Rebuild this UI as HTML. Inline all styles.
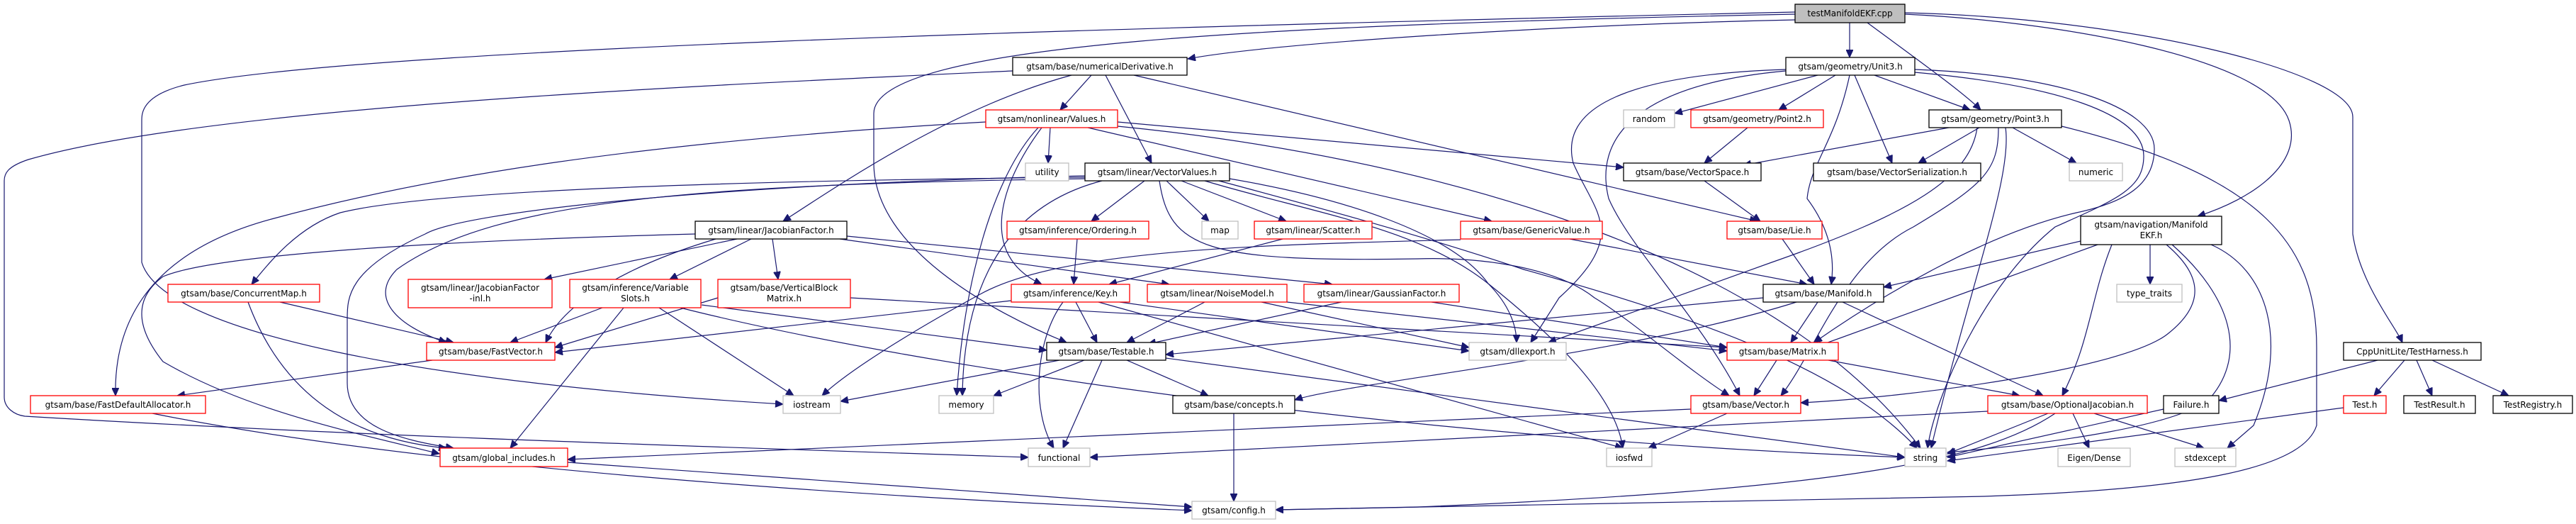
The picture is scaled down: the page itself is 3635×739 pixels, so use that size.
<!DOCTYPE html>
<html><head><meta charset="utf-8"><style>
html,body{margin:0;padding:0;background:#fff;}
svg{display:block;}
text{font-family:"DejaVu Sans","Liberation Sans",sans-serif;font-size:12px;fill:#000;}
.e{fill:none;stroke:#191970;stroke-width:1.2;marker-end:url(#a);}
.b{fill:#fff;stroke:#000;stroke-width:1.3;}
.r{fill:#fff;stroke:#ff0000;stroke-width:1.3;}
.g{fill:#fff;stroke:#bfbfbf;stroke-width:1.3;}
</style></head><body>
<svg width="3635" height="739" viewBox="0 0 3635 739" xmlns="http://www.w3.org/2000/svg">
<defs><marker id="a" markerUnits="userSpaceOnUse" markerWidth="12" markerHeight="10" refX="11" refY="5" orient="auto"><path d="M0,0 L11,5 L0,10 z" fill="#191970" stroke="#191970"/></marker></defs>
<g>
<path class="e" d="M2610,32 L2610,81"/>
<path class="e" d="M2635,32 C2700,80 2770,130 2795,155"/>
<path class="e" d="M2533,28 C2200,35 1800,60 1676,83"/>
<path class="e" d="M2533,20 C1800,35 1233,60 1233,160 L1233,230 C1233,350 1400,440 1505,483"/>
<path class="e" d="M2533,17 C1500,40 500,70 260,120 C200,135 200,160 200,170 L200,370 C230,470 600,540 1105,570"/>
<path class="e" d="M2688,20 C2900,30 3200,80 3230,170 C3250,230 3180,280 3101,305"/>
<path class="e" d="M2688,18 C3000,25 3320,100 3320,165 L3320,330 C3330,400 3380,460 3390,483"/>
<path class="e" d="M1429,100 C1000,120 300,150 40,225 C10,235 6,245 6,255 L6,560 C6,575 20,585 35,587 C500,615 1000,630 1451,645"/>
<path class="e" d="M1540,106 L1496,155"/>
<path class="e" d="M1560,106 L1625,230"/>
<path class="e" d="M1512,106 C1350,150 1200,250 1105,312"/>
<path class="e" d="M1600,106 L2480,312"/>
<path class="e" d="M1482,180 L1479,230"/>
<path class="e" d="M1465,180 C1400,250 1360,400 1350,558"/>
<path class="e" d="M1470,180 C1410,260 1380,360 1470,401"/>
<path class="e" d="M1577,172 L2291,236"/>
<path class="e" d="M1535,180 L2105,312"/>
<path class="e" d="M1577,178 C2000,220 2500,350 2710,632"/>
<path class="e" d="M1391,172 C900,200 600,250 383,309 C250,345 160,420 163,558"/>
<path class="e" d="M1615,255 L1540,312"/>
<path class="e" d="M1646,255 L1706,312"/>
<path class="e" d="M1667,255 L1815,312"/>
<path class="e" d="M1555,255 C1420,290 1360,400 1358,558"/>
<path class="e" d="M1531,252 C1000,260 700,280 560,380 C520,420 560,460 630,483"/>
<path class="e" d="M1531,250 C1000,255 600,270 480,300 C420,320 380,370 355,401"/>
<path class="e" d="M1531,248 C1000,260 650,300 600,330 C490,380 490,420 490,450 L490,540 C490,600 560,620 640,632"/>
<path class="e" d="M1735,252 C1900,280 2050,330 2100,400 C2130,430 2140,460 2140,483"/>
<path class="e" d="M1700,255 C1850,300 2000,320 2100,400 C2200,480 2280,560 2290,632"/>
<path class="e" d="M1636,255 C1650,350 1700,370 2000,365 C2100,362 2200,380 2250,420 C2300,450 2380,520 2440,558"/>
<path class="e" d="M1720,255 C1850,290 2000,330 2150,380 C2400,450 2600,520 2705,632"/>
<path class="e" d="M1040,337 L768,394"/>
<path class="e" d="M1060,337 L945,394"/>
<path class="e" d="M1090,337 L1098,394"/>
<path class="e" d="M1185,337 L1650,401"/>
<path class="e" d="M1195,333 L1880,401"/>
<path class="e" d="M1010,337 C900,370 800,420 770,483"/>
<path class="e" d="M981,330 C600,340 300,360 230,390 C190,420 190,460 230,510 C350,580 500,610 620,640"/>
<path class="e" d="M850,434 L720,483"/>
<path class="e" d="M880,434 L720,632"/>
<path class="e" d="M990,430 L1477,494"/>
<path class="e" d="M930,434 L1120,558"/>
<path class="e" d="M960,434 C1300,520 2000,620 2688,645"/>
<path class="e" d="M1013,420 L783,490"/>
<path class="e" d="M1200,420 L2437,490"/>
<path class="e" d="M395,426 L640,483"/>
<path class="e" d="M350,426 C400,560 500,620 630,632"/>
<path class="e" d="M610,508 L250,558"/>
<path class="e" d="M215,583 C600,660 1200,700 1682,720"/>
<path class="e" d="M801,652 L1682,715"/>
<path class="e" d="M1520,337 L1515,401"/>
<path class="e" d="M1810,337 L1565,401"/>
<path class="e" d="M2215,337 L2550,401"/>
<path class="e" d="M2061,338 C1800,345 1500,350 1383,415 C1300,460 1200,520 1160,558"/>
<path class="e" d="M1518,426 L1548,483"/>
<path class="e" d="M1500,426 C1460,480 1455,580 1487,632"/>
<path class="e" d="M1427,424 L783,497"/>
<path class="e" d="M1550,426 L2290,632"/>
<path class="e" d="M1580,426 L2073,495"/>
<path class="e" d="M1700,426 L1590,483"/>
<path class="e" d="M1780,426 L2073,490"/>
<path class="e" d="M1816,426 L2437,495"/>
<path class="e" d="M1893,426 L1620,485"/>
<path class="e" d="M2020,426 L2437,490"/>
<path class="e" d="M1495,508 L1186,566"/>
<path class="e" d="M1530,508 L1402,558"/>
<path class="e" d="M1590,508 L1705,558"/>
<path class="e" d="M1555,508 L1500,632"/>
<path class="e" d="M1645,505 L2688,645"/>
<path class="e" d="M1741,583 L1741,707"/>
<path class="e" d="M2565,426 L2527,483"/>
<path class="e" d="M2600,426 L2883,558"/>
<path class="e" d="M2488,420 L1645,500"/>
<path class="e" d="M2535,426 C2300,500 1900,540 1827,564"/>
<path class="e" d="M2507,508 L2475,558"/>
<path class="e" d="M2580,508 L2850,558"/>
<path class="e" d="M2437,583 L2326,632"/>
<path class="e" d="M2386,577 L801,648"/>
<path class="e" d="M2890,583 L2748,640"/>
<path class="e" d="M2925,583 L2948,632"/>
<path class="e" d="M2955,583 L3110,632"/>
<path class="e" d="M2900,583 C2800,650 2600,690 2000,715 L1800,719"/>
<path class="e" d="M2805,580 L1538,645"/>
<path class="e" d="M2466,180 L2405,230"/>
<path class="e" d="M2565,106 L2363,160"/>
<path class="e" d="M2590,106 L2510,155"/>
<path class="e" d="M2645,106 L2780,155"/>
<path class="e" d="M2617,106 L2670,230"/>
<path class="e" d="M2610,106 C2590,200 2555,230 2550,280 C2580,320 2590,360 2584,401"/>
<path class="e" d="M2520,98 C2300,105 2200,150 2220,230 C2250,300 2300,330 2200,420 L2160,483"/>
<path class="e" d="M2520,100 C2300,120 2250,200 2270,280 C2300,350 2400,450 2455,558"/>
<path class="e" d="M2702,98 C2900,105 3040,150 3040,210 C3040,260 3000,285 2930,300 C2800,330 2650,420 2560,483"/>
<path class="e" d="M2702,102 C2900,120 3025,160 3025,220 C3025,265 2990,280 2900,320 C2800,400 2730,560 2720,632"/>
<path class="e" d="M2750,180 L2460,233"/>
<path class="e" d="M2793,180 L2707,230"/>
<path class="e" d="M2840,180 L2930,230"/>
<path class="e" d="M2820,180 C2820,240 2800,260 2700,320 C2600,370 2560,500 2513,558"/>
<path class="e" d="M2830,180 C2840,250 2780,400 2725,632"/>
<path class="e" d="M2790,180 C2780,250 2700,300 2500,370 L2185,483"/>
<path class="e" d="M2909,178 C3200,250 3269,350 3269,490 L3269,600 C3250,660 3100,690 2800,700 L1800,719"/>
<path class="e" d="M2515,337 L2560,401"/>
<path class="e" d="M2405,255 L2484,312"/>
<path class="e" d="M3034,345 L3034,401"/>
<path class="e" d="M2936,340 L2658,405"/>
<path class="e" d="M2960,345 L2560,490"/>
<path class="e" d="M3057,345 C3110,390 3110,430 3060,470 C3000,520 2700,560 2541,568"/>
<path class="e" d="M2980,345 C2950,420 2950,480 2910,558"/>
<path class="e" d="M3065,345 C3150,420 3170,500 3120,560 C3080,600 2900,625 2748,638"/>
<path class="e" d="M3120,345 C3200,380 3230,480 3180,600 L3143,632"/>
<path class="e" d="M3355,508 L3131,565"/>
<path class="e" d="M3393,508 L3350,558"/>
<path class="e" d="M3410,508 L3432,558"/>
<path class="e" d="M3432,508 L3540,558"/>
<path class="e" d="M3053,577 L2748,645"/>
<path class="e" d="M3307,575 L2748,650"/>
</g>
<g>
<rect x="2533" y="6" width="155" height="26" fill="#bfbfbf" stroke="#000" stroke-width="1.3"/><text x="2610.5" y="23" text-anchor="middle">testManifoldEKF.cpp</text>
<rect class="b" x="1429" y="81" width="246" height="25"/><text x="1552" y="98" text-anchor="middle">gtsam/base/numericalDerivative.h</text>
<rect class="b" x="2520" y="81" width="182" height="25"/><text x="2611" y="98" text-anchor="middle">gtsam/geometry/Unit3.h</text>
<rect class="r" x="1391" y="155" width="186" height="25"/><text x="1484" y="172" text-anchor="middle">gtsam/nonlinear/Values.h</text>
<rect class="g" x="2291" y="155" width="72" height="25"/><text x="2327" y="172" text-anchor="middle">random</text>
<rect class="r" x="2386" y="155" width="187" height="25"/><text x="2479.5" y="172" text-anchor="middle">gtsam/geometry/Point2.h</text>
<rect class="b" x="2722" y="155" width="187" height="25"/><text x="2815.5" y="172" text-anchor="middle">gtsam/geometry/Point3.h</text>
<rect class="g" x="1447" y="230" width="61" height="25"/><text x="1477.5" y="247" text-anchor="middle">utility</text>
<rect class="b" x="1531" y="230" width="204" height="25"/><text x="1633" y="247" text-anchor="middle">gtsam/linear/VectorValues.h</text>
<rect class="b" x="2291" y="230" width="194" height="25"/><text x="2388" y="247" text-anchor="middle">gtsam/base/VectorSpace.h</text>
<rect class="b" x="2559" y="230" width="236" height="25"/><text x="2677" y="247" text-anchor="middle">gtsam/base/VectorSerialization.h</text>
<rect class="g" x="2920" y="230" width="75" height="25"/><text x="2957.5" y="247" text-anchor="middle">numeric</text>
<rect class="b" x="981" y="312" width="214" height="25"/><text x="1088" y="329" text-anchor="middle">gtsam/linear/JacobianFactor.h</text>
<rect class="r" x="1421" y="312" width="200" height="25"/><text x="1521" y="329" text-anchor="middle">gtsam/inference/Ordering.h</text>
<rect class="g" x="1696" y="312" width="51" height="25"/><text x="1721.5" y="329" text-anchor="middle">map</text>
<rect class="r" x="1770" y="312" width="166" height="25"/><text x="1853" y="329" text-anchor="middle">gtsam/linear/Scatter.h</text>
<rect class="r" x="2061" y="312" width="200" height="25"/><text x="2161" y="329" text-anchor="middle">gtsam/base/GenericValue.h</text>
<rect class="r" x="2437" y="312" width="134" height="25"/><text x="2504" y="329" text-anchor="middle">gtsam/base/Lie.h</text>
<rect class="b" x="2936" y="305" width="199" height="40"/><text x="3035.5" y="321" text-anchor="middle">gtsam/navigation/Manifold</text><text x="3035.5" y="336" text-anchor="middle">EKF.h</text>
<rect class="r" x="237" y="401" width="214" height="25"/><text x="344" y="418" text-anchor="middle">gtsam/base/ConcurrentMap.h</text>
<rect class="r" x="576" y="394" width="203" height="40"/><text x="677.5" y="410" text-anchor="middle">gtsam/linear/JacobianFactor</text><text x="677.5" y="425" text-anchor="middle">-inl.h</text>
<rect class="r" x="804" y="394" width="185" height="40"/><text x="896.5" y="410" text-anchor="middle">gtsam/inference/Variable</text><text x="896.5" y="425" text-anchor="middle">Slots.h</text>
<rect class="r" x="1013" y="394" width="187" height="40"/><text x="1106.5" y="410" text-anchor="middle">gtsam/base/VerticalBlock</text><text x="1106.5" y="425" text-anchor="middle">Matrix.h</text>
<rect class="r" x="1427" y="401" width="167" height="25"/><text x="1510.5" y="418" text-anchor="middle">gtsam/inference/Key.h</text>
<rect class="r" x="1619" y="401" width="197" height="25"/><text x="1717.5" y="418" text-anchor="middle">gtsam/linear/NoiseModel.h</text>
<rect class="r" x="1840" y="401" width="219" height="25"/><text x="1949.5" y="418" text-anchor="middle">gtsam/linear/GaussianFactor.h</text>
<rect class="b" x="2488" y="401" width="170" height="25"/><text x="2573" y="418" text-anchor="middle">gtsam/base/Manifold.h</text>
<rect class="g" x="2987" y="401" width="92" height="25"/><text x="3033" y="418" text-anchor="middle">type_traits</text>
<rect class="r" x="602" y="483" width="181" height="25"/><text x="692.5" y="500" text-anchor="middle">gtsam/base/FastVector.h</text>
<rect class="b" x="1477" y="483" width="168" height="25"/><text x="1561" y="500" text-anchor="middle">gtsam/base/Testable.h</text>
<rect class="g" x="2073" y="483" width="137" height="25"/><text x="2141.5" y="500" text-anchor="middle">gtsam/dllexport.h</text>
<rect class="r" x="2437" y="483" width="157" height="25"/><text x="2515.5" y="500" text-anchor="middle">gtsam/base/Matrix.h</text>
<rect class="b" x="3307" y="483" width="194" height="25"/><text x="3404" y="500" text-anchor="middle">CppUnitLite/TestHarness.h</text>
<rect class="r" x="43" y="558" width="247" height="25"/><text x="166.5" y="575" text-anchor="middle">gtsam/base/FastDefaultAllocator.h</text>
<rect class="g" x="1105" y="558" width="81" height="25"/><text x="1145.5" y="575" text-anchor="middle">iostream</text>
<rect class="g" x="1325" y="558" width="77" height="25"/><text x="1363.5" y="575" text-anchor="middle">memory</text>
<rect class="b" x="1655" y="558" width="172" height="25"/><text x="1741" y="575" text-anchor="middle">gtsam/base/concepts.h</text>
<rect class="r" x="2386" y="558" width="155" height="25"/><text x="2463.5" y="575" text-anchor="middle">gtsam/base/Vector.h</text>
<rect class="r" x="2805" y="558" width="225" height="25"/><text x="2917.5" y="575" text-anchor="middle">gtsam/base/OptionalJacobian.h</text>
<rect class="b" x="3053" y="558" width="78" height="25"/><text x="3092" y="575" text-anchor="middle">Failure.h</text>
<rect class="r" x="3307" y="558" width="60" height="25"/><text x="3337" y="575" text-anchor="middle">Test.h</text>
<rect class="b" x="3392" y="558" width="101" height="25"/><text x="3442.5" y="575" text-anchor="middle">TestResult.h</text>
<rect class="b" x="3518" y="558" width="112" height="25"/><text x="3574" y="575" text-anchor="middle">TestRegistry.h</text>
<rect class="r" x="621" y="632" width="180" height="26"/><text x="711" y="650" text-anchor="middle">gtsam/global_includes.h</text>
<rect class="g" x="1451" y="632" width="87" height="26"/><text x="1494.5" y="650" text-anchor="middle">functional</text>
<rect class="g" x="2267" y="632" width="64" height="26"/><text x="2299" y="650" text-anchor="middle">iosfwd</text>
<rect class="g" x="2688" y="632" width="58" height="26"/><text x="2717" y="650" text-anchor="middle">string</text>
<rect class="g" x="2904" y="632" width="102" height="26"/><text x="2955" y="650" text-anchor="middle">Eigen/Dense</text>
<rect class="g" x="3069" y="632" width="86" height="26"/><text x="3112" y="650" text-anchor="middle">stdexcept</text>
<rect class="g" x="1682" y="707" width="118" height="25"/><text x="1741" y="724" text-anchor="middle">gtsam/config.h</text>
</g>
</svg>
</body></html>
